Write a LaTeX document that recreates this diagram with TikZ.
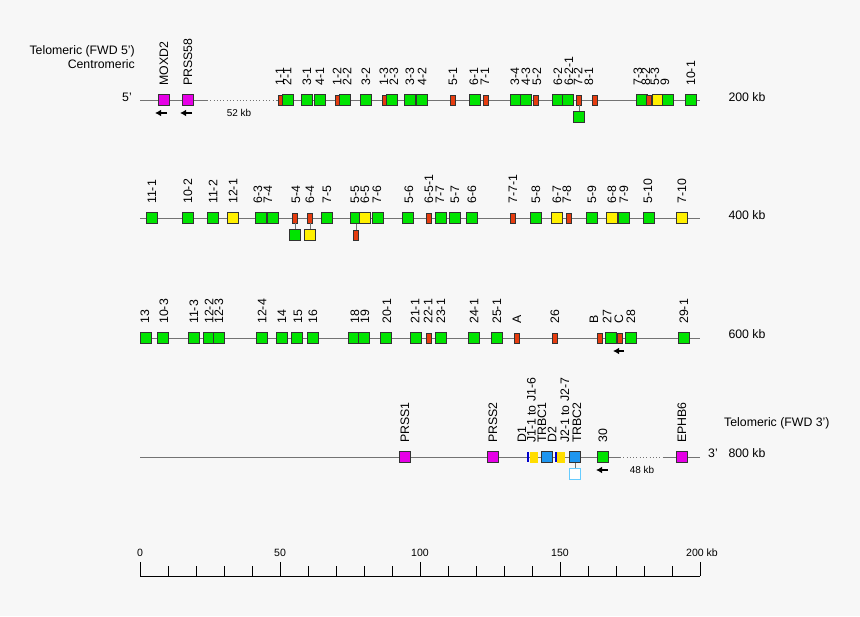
\documentclass[tikz,border=0pt]{standalone}
\usepackage{fontspec}
\setmainfont{Liberation Sans}
\usetikzlibrary{arrows.meta,calc}

\definecolor{bggray}{HTML}{F7F7F7}
\definecolor{linegray}{HTML}{737373}
\definecolor{edgegray}{HTML}{333333}
\definecolor{tcrgreen}{HTML}{00E400}
\definecolor{orfred}{HTML}{E63C0F}
\definecolor{pseudoyellow}{HTML}{FFF000}
\definecolor{othermagenta}{HTML}{E600E6}
\definecolor{constblue}{HTML}{1E96F0}
\definecolor{dblue}{HTML}{0000CC}
\definecolor{jyellow}{HTML}{FFDD00}
\definecolor{lightblue}{HTML}{66CCFF}

\tikzset{
    backbone/.style={draw=linegray, line width=0.8pt},
    gapline/.style={draw=linegray, line width=0.8pt, dotted},
    link/.style={draw=linegray, line width=0.8pt},
    genebox/.style={draw=edgegray, line width=0.6pt, inner sep=0pt, minimum width=3.4mm, minimum height=3.4mm},
    tcrbox/.style={genebox, fill=tcrgreen},
    pseudobox/.style={genebox, fill=pseudoyellow},
    otherbox/.style={genebox, fill=othermagenta},
    constbox/.style={genebox, fill=constblue},
    emptybox/.style={draw=lightblue, line width=0.8pt, fill=white, inner sep=0pt, minimum width=3.1mm, minimum height=3.1mm},
    orfbox/.style={draw=edgegray, line width=0.5pt, fill=orfred, inner sep=0pt, minimum width=1.35mm, minimum height=3mm},
    dseg/.style={fill=dblue, inner sep=0pt, minimum width=0.6mm, minimum height=3mm},
    jseg/.style={fill=jyellow, inner sep=0pt, minimum width=2.5mm, minimum height=3.3mm},
    glabel/.style={rotate=90, anchor=west, inner sep=0pt, font=\fontsize{10.5}{12}\selectfont},
    plain/.style={inner sep=0pt, font=\fontsize{10.5}{12}\selectfont},
    small/.style={inner sep=0pt, font=\fontsize{8.5}{10}\selectfont},
    scalelabel/.style={inner sep=0pt, font=\fontsize{9}{10}\selectfont},
    dirarrow/.style={-{Latex[length=1.8mm,width=2mm]}, line width=1.1pt},
    axisline/.style={draw=black, line width=0.6pt},
}

\begin{document}
\begin{tikzpicture}[x=0.3mm, y=-0.3mm]
    \fill[bggray] (0,0) rectangle (860,616);

    % headings
    \node[plain, anchor=east] (telo5) at (135,51) {Telomeric (FWD 5')};
    \node[plain, anchor=east] (centro) at (135,64) {Centromeric};
    \node[plain, anchor=west] (telo3) at (724,423) {Telomeric (FWD 3')};

    % backbones
    \coordinate (r1a) at (140,100);
    \coordinate (r1b) at (207,100);
    \coordinate (r1c) at (277,100);
    \coordinate (r1d) at (700,100);
    \draw[backbone] (r1a) -- (r1b);
    \draw[gapline] (r1b) -- (r1c);
    \draw[backbone] (r1c) -- (r1d);
    \coordinate (r2a) at (140,218);
    \coordinate (r2b) at (700,218);
    \draw[backbone] (r2a) -- (r2b);
    \coordinate (r3a) at (140,338);
    \coordinate (r3b) at (700,338);
    \draw[backbone] (r3a) -- (r3b);
    \coordinate (r4a) at (140,457);
    \coordinate (r4b) at (620,457);
    \coordinate (r4c) at (663,457);
    \coordinate (r4d) at (700,457);
    \draw[backbone] (r4a) -- (r4b);
    \draw[gapline] (r4b) -- (r4c);
    \draw[backbone] (r4c) -- (r4d);

    % 1st row
    \node[plain] (end5) at (127,97) {5'};
    \node[plain] (kb200) at (747,97) {200 kb};
    \node[small] (gap52) at (239,113) {52 kb};
    \node[otherbox] (moxd2) at (164,100) {}; \node[glabel] (l-moxd2) at (164,86) {MOXD2};
    \node[otherbox] (prss58) at (188,100) {}; \node[glabel] (l-prss58) at (188,86) {PRSS58};
    \draw[dirarrow] ($(moxd2)+(3,13)$) -- ($(moxd2)+(-9,13)$);
    \draw[dirarrow] ($(prss58)+(4,13)$) -- ($(prss58)+(-8,13)$);
    \node[orfbox] (v1-1) at (281,100) {}; \node[glabel] (l1-1) at (280,86) {1-1};
    \node[tcrbox] (v2-1) at (288,100) {}; \node[glabel] (l2-1) at (287,86) {2-1};
    \node[tcrbox] (v3-1) at (307,100) {}; \node[glabel] (l3-1) at (307,86) {3-1};
    \node[tcrbox] (v4-1) at (320,100) {}; \node[glabel] (l4-1) at (320,86) {4-1};
    \node[orfbox] (v1-2) at (338,100) {}; \node[glabel] (l1-2) at (337,86) {1-2};
    \node[tcrbox] (v2-2) at (345,100) {}; \node[glabel] (l2-2) at (347,86) {2-2};
    \node[tcrbox] (v3-2) at (366,100) {}; \node[glabel] (l3-2) at (366,86) {3-2};
    \node[orfbox] (v1-3) at (385,100) {}; \node[glabel] (l1-3) at (384,86) {1-3};
    \node[tcrbox] (v2-3) at (392,100) {}; \node[glabel] (l2-3) at (394,86) {2-3};
    \node[tcrbox] (v3-3) at (410,100) {}; \node[glabel] (l3-3) at (410,86) {3-3};
    \node[tcrbox] (v4-2) at (422,100) {}; \node[glabel] (l4-2) at (422,86) {4-2};
    \node[orfbox] (v5-1) at (453,100) {}; \node[glabel] (l5-1) at (453,86) {5-1};
    \node[tcrbox] (v6-1) at (475,100) {}; \node[glabel] (l6-1) at (474,86) {6-1};
    \node[orfbox] (v7-1) at (486,100) {}; \node[glabel] (l7-1) at (485,86) {7-1};
    \node[tcrbox] (v3-4) at (516,100) {}; \node[glabel] (l3-4) at (515,86) {3-4};
    \node[tcrbox] (v4-3) at (526,100) {}; \node[glabel] (l4-3) at (526,86) {4-3};
    \node[orfbox] (v5-2) at (536,100) {}; \node[glabel] (l5-2) at (537,86) {5-2};
    \node[tcrbox] (v6-2) at (558,100) {}; \node[glabel] (l6-2) at (558,86) {6-2};
    \node[tcrbox] (v6-2-1) at (568,100) {}; \node[glabel] (l6-2-1) at (569,86) {6-2-1};
    \node[orfbox] (v7-2) at (579,100) {}; \node[glabel] (l7-2) at (578,86) {7-2};
    \node[tcrbox] (v7-2b) at (579,117) {};
    \draw[link] (v7-2) -- (v7-2b);
    \node[orfbox] (v8-1) at (595,100) {}; \node[glabel] (l8-1) at (589,86) {8-1};
    \node[tcrbox] (v7-3) at (642,100) {}; \node[glabel] (l7-3) at (638,86) {7-3};
    \node[orfbox] (v8-2) at (649,100) {}; \node[glabel] (l8-2) at (646,86) {8-2};
    \node[pseudobox] (v5-3) at (658,100) {}; \node[glabel] (l5-3) at (655,86) {5-3};
    \node[tcrbox] (v9) at (668,100) {}; \node[glabel] (l9) at (665,86) {9};
    \node[tcrbox] (v10-1) at (691,100) {}; \node[glabel] (l10-1) at (691,86) {10-1};

    % 2nd row
    \node[plain] (kb400) at (747,215) {400 kb};
    \node[tcrbox] (v11-1) at (152,218) {}; \node[glabel] (l11-1) at (152,204) {11-1};
    \node[tcrbox] (v10-2) at (188,218) {}; \node[glabel] (l10-2) at (188,204) {10-2};
    \node[tcrbox] (v11-2) at (213,218) {}; \node[glabel] (l11-2) at (213,204) {11-2};
    \node[pseudobox] (v12-1) at (233,218) {}; \node[glabel] (l12-1) at (233,204) {12-1};
    \node[tcrbox] (v6-3) at (261,218) {}; \node[glabel] (l6-3) at (258,204) {6-3};
    \node[tcrbox] (v7-4) at (273,218) {}; \node[glabel] (l7-4) at (268,204) {7-4};
    \node[orfbox] (v5-4) at (295,218) {}; \node[glabel] (l5-4) at (296,204) {5-4};
    \node[tcrbox] (v5-4b) at (295,235) {};
    \draw[link] (v5-4) -- (v5-4b);
    \node[orfbox] (v6-4) at (310,218) {}; \node[glabel] (l6-4) at (310,204) {6-4};
    \node[pseudobox] (v6-4b) at (310,235) {};
    \draw[link] (v6-4) -- (v6-4b);
    \node[tcrbox] (v7-5) at (327,218) {}; \node[glabel] (l7-5) at (327,204) {7-5};
    \node[tcrbox] (v5-5) at (356,218) {}; \node[glabel] (l5-5) at (355,204) {5-5};
    \node[orfbox] (v5-5b) at (356,235) {};
    \draw[link] (v5-5) -- (v5-5b);
    \node[pseudobox] (v6-5) at (365,218) {}; \node[glabel] (l6-5) at (365,204) {6-5};
    \node[tcrbox] (v7-6) at (378,218) {}; \node[glabel] (l7-6) at (377,204) {7-6};
    \node[tcrbox] (v5-6) at (408,218) {}; \node[glabel] (l5-6) at (409,204) {5-6};
    \node[orfbox] (v6-5-1) at (429,218) {}; \node[glabel] (l6-5-1) at (429,204) {6-5-1};
    \node[tcrbox] (v7-7) at (441,218) {}; \node[glabel] (l7-7) at (440,204) {7-7};
    \node[tcrbox] (v5-7) at (455,218) {}; \node[glabel] (l5-7) at (455,204) {5-7};
    \node[tcrbox] (v6-6) at (472,218) {}; \node[glabel] (l6-6) at (472,204) {6-6};
    \node[orfbox] (v7-7-1) at (513,218) {}; \node[glabel] (l7-7-1) at (513,204) {7-7-1};
    \node[tcrbox] (v5-8) at (536,218) {}; \node[glabel] (l5-8) at (536,204) {5-8};
    \node[pseudobox] (v6-7) at (557,218) {}; \node[glabel] (l6-7) at (557,204) {6-7};
    \node[orfbox] (v7-8) at (569,218) {}; \node[glabel] (l7-8) at (567,204) {7-8};
    \node[tcrbox] (v5-9) at (592,218) {}; \node[glabel] (l5-9) at (592,204) {5-9};
    \node[pseudobox] (v6-8) at (612,218) {}; \node[glabel] (l6-8) at (612,204) {6-8};
    \node[tcrbox] (v7-9) at (624,218) {}; \node[glabel] (l7-9) at (624,204) {7-9};
    \node[tcrbox] (v5-10) at (649,218) {}; \node[glabel] (l5-10) at (648,204) {5-10};
    \node[pseudobox] (v7-10) at (682,218) {}; \node[glabel] (l7-10) at (682,204) {7-10};

    % 3rd row
    \node[plain] (kb600) at (747,334) {600 kb};
    \node[tcrbox] (v13) at (146,338) {}; \node[glabel] (l13) at (145,324) {13};
    \node[tcrbox] (v10-3) at (163,338) {}; \node[glabel] (l10-3) at (164,324) {10-3};
    \node[tcrbox] (v11-3) at (194,338) {}; \node[glabel] (l11-3) at (194,324) {11-3};
    \node[tcrbox] (v12-2) at (209,338) {}; \node[glabel] (l12-2) at (209,324) {12-2};
    \node[tcrbox] (v12-3) at (219,338) {}; \node[glabel] (l12-3) at (219,324) {12-3};
    \node[tcrbox] (v12-4) at (262,338) {}; \node[glabel] (l12-4) at (262,324) {12-4};
    \node[tcrbox] (v14) at (282,338) {}; \node[glabel] (l14) at (282,324) {14};
    \node[tcrbox] (v15) at (297,338) {}; \node[glabel] (l15) at (298,324) {15};
    \node[tcrbox] (v16) at (313,338) {}; \node[glabel] (l16) at (313,324) {16};
    \node[tcrbox] (v18) at (354,338) {}; \node[glabel] (l18) at (355,324) {18};
    \node[tcrbox] (v19) at (364,338) {}; \node[glabel] (l19) at (365,324) {19};
    \node[tcrbox] (v20-1) at (386,338) {}; \node[glabel] (l20-1) at (387,324) {20-1};
    \node[tcrbox] (v21-1) at (416,338) {}; \node[glabel] (l21-1) at (415,324) {21-1};
    \node[orfbox] (v22-1) at (429,338) {}; \node[glabel] (l22-1) at (428,324) {22-1};
    \node[tcrbox] (v23-1) at (441,338) {}; \node[glabel] (l23-1) at (441,324) {23-1};
    \node[tcrbox] (v24-1) at (474,338) {}; \node[glabel] (l24-1) at (474,324) {24-1};
    \node[tcrbox] (v25-1) at (497,338) {}; \node[glabel] (l25-1) at (497,324) {25-1};
    \node[orfbox] (vA) at (517,338) {}; \node[glabel] (lA) at (517,324) {A};
    \node[orfbox] (v26) at (555,338) {}; \node[glabel] (l26) at (555,324) {26};
    \node[orfbox] (vB) at (600,338) {}; \node[glabel] (lB) at (594,324) {B};
    \node[tcrbox] (v27) at (611,338) {}; \node[glabel] (l27) at (607,324) {27};
    \node[orfbox] (vC) at (620,338) {}; \node[glabel] (lC) at (619,324) {C};
    \node[tcrbox] (v28) at (631,338) {}; \node[glabel] (l28) at (631,324) {28};
    \node[tcrbox] (v29-1) at (684,338) {}; \node[glabel] (l29-1) at (684,324) {29-1};
    \draw[dirarrow] ($(vC)+(4,13)$) -- ($(vC)+(-7,13)$);

    % 4th row
    \node[plain] (kb800) at (747,453) {800 kb};
    \node[plain] (end3) at (713,453) {3'};
    \node[small] (gap48) at (642,470) {48 kb};
    \node[otherbox] (prss1) at (405,457) {}; \node[glabel] (l-prss1) at (405,443) {PRSS1};
    \node[otherbox] (prss2) at (493,457) {}; \node[glabel] (l-prss2) at (493,443) {PRSS2};
    \node[dseg] (d1) at (527.5,457) {}; \node[glabel] (l-d1) at (522,443) {D1};
    \node[jseg] (j1) at (534,457) {}; \node[glabel] (l-j1) at (531.5,443) {J1-1 to J1-6};
    \node[constbox] (trbc1) at (546.7,457) {}; \node[glabel] (l-trbc1) at (542,443) {TRBC1};
    \node[dseg] (d2) at (555.5,457) {}; \node[glabel] (l-d2) at (552,443) {D2};
    \node[jseg] (j2) at (561,457) {}; \node[glabel] (l-j2) at (565,443) {J2-1 to J2-7};
    \node[constbox] (trbc2) at (575,457) {}; \node[glabel] (l-trbc2) at (577,443) {TRBC2};
    \node[emptybox] (trbc2b) at (575,474) {};
    \draw[link] (trbc2) -- (trbc2b);
    \node[tcrbox] (v30) at (603,457) {}; \node[glabel] (l30) at (603,443) {30};
    \draw[dirarrow] ($(v30)+(5,13)$) -- ($(v30)+(-7,13)$);
    \node[otherbox] (ephb6) at (682,457) {}; \node[glabel] (l-ephb6) at (682,443) {EPHB6};

    % scale
    \draw[axisline] (140,576) -- (700,576);
    \draw[axisline] (140,562) -- (140,576) (280,562) -- (280,576) (420,562) -- (420,576)
        (560,562) -- (560,576) (700,562) -- (700,576);
    \draw[axisline] (168,566) -- (168,576) (196,566) -- (196,576) (224,566) -- (224,576) (252,566) -- (252,576);
    \draw[axisline] (308,566) -- (308,576) (336,566) -- (336,576) (364,566) -- (364,576) (392,566) -- (392,576);
    \draw[axisline] (448,566) -- (448,576) (476,566) -- (476,576) (504,566) -- (504,576) (532,566) -- (532,576);
    \draw[axisline] (588,566) -- (588,576) (616,566) -- (616,576) (644,566) -- (644,576) (672,566) -- (672,576);
    \node[scalelabel] (s0) at (140,553) {0};
    \node[scalelabel] (s50) at (280,553) {50};
    \node[scalelabel] (s100) at (420,553) {100};
    \node[scalelabel] (s150) at (560,553) {150};
    \node[scalelabel] (s200) at (702,553) {200 kb};
\end{tikzpicture}
\end{document}
